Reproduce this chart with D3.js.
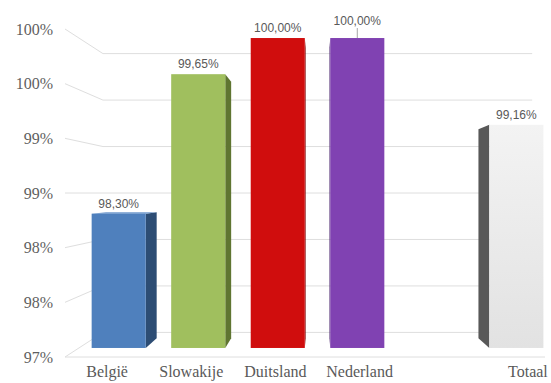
<!DOCTYPE html>
<html>
<head>
<meta charset="utf-8">
<script src="https://cdn.jsdelivr.net/npm/d3@7"></script>
<style>
  body { margin: 0; background: #fff; }
  svg { display: block; }
</style>
</head>
<body>
<div id="chart"></div>
<script>
// Chart data
const categories = ['België', 'Slowakije', 'Duitsland', 'Nederland', '', 'Totaal'];
const values = [98.30, 99.65, 100.00, 100.00, null, 99.16];
const valueLabels = ['98,30%', '99,65%', '100,00%', '100,00%', '', '99,16%'];
const tickValues = [97, 97.5, 98, 98.5, 99, 99.5, 100];
const tickLabels = ['97%', '98%', '98%', '99%', '99%', '100%', '100%'];

// front / side / top colours per bar
const colors = [
    { front: '#4f80bd', side: '#2d4d74', top: '#6f98cc' },
    { front: '#a0bf5e', side: '#5f7531', top: '#b7d07e' },
    { front: '#d00d0d', side: '#7e0808', top: '#e03a3a' },
    { front: '#8042b2', side: '#4d2870', top: '#9c66c8' },
    null,
    { front: '#ececec', side: '#585858', top: '#f6f6f6' }
];

const width = 551, height = 383;
const container = document.getElementById('chart');
container.innerHTML = '';

const svg = d3.select(container)
    .append('svg')
    .attr('width', width)
    .attr('height', height);

// Totaal bar has a soft grey gradient
const defs = svg.append('defs');
const grad = defs.append('linearGradient')
    .attr('id', 'greyGrad')
    .attr('x1', 0).attr('y1', 0).attr('x2', 0).attr('y2', 1);
grad.append('stop').attr('offset', '0%').attr('stop-color', '#f3f3f3');
grad.append('stop').attr('offset', '100%').attr('stop-color', '#e2e2e2');

// Simple perspective: everything shrinks toward a vanishing point with depth z (0 = front, 1 = back wall)
const vp = { x: 318, y: 193 };
const depthShrink = 0.15;
function proj(x, y, z) {
    const s = 1 - depthShrink * z;
    return [vp.x + (x - vp.x) * s, vp.y + (y - vp.y) * s];
}
const barZ0 = 0.367, barZ1 = 0.767;
const wallLeft = 65, wallRight = 570;

// Scales (front plane coordinates)
const xScale = d3.scaleBand()
    .domain(categories)
    .range([wallLeft, wallRight])
    .paddingInner(0.32)
    .paddingOuter(0.16);

const yScale = d3.scaleLinear()
    .domain([97, 100])
    .range([357, 29]);

const line = d3.line();
const grid = svg.append('g')
    .attr('fill', 'none')
    .attr('stroke', '#dedede')
    .attr('stroke-width', 1);

// Side wall + back wall gridlines
tickValues.forEach(t => {
    const y = yScale(t);
    grid.append('path')
        .attr('d', line([proj(wallLeft, y, 0), proj(wallLeft, y, 1), proj(wallRight, y, 1)]));
});

// Floor front edge
grid.append('path')
    .attr('d', line([proj(wallLeft, yScale(97), 0), proj(wallRight - 25, yScale(97), 0)]));

// Y axis labels
const yAxis = d3.axisLeft(yScale)
    .tickValues(tickValues)
    .tickFormat((d, i) => tickLabels[i])
    .tickSize(0)
    .tickPadding(0);

const yAxisG = svg.append('g')
    .attr('transform', 'translate(53,0)')
    .call(yAxis);
yAxisG.select('.domain').remove();
yAxisG.selectAll('text')
    .style('fill', '#5f5f5f')
    .style('font-family', '"Liberation Serif", "DejaVu Serif", serif')
    .style('font-size', '16px');

// X axis labels
const xAxis = d3.axisBottom(xScale).tickSize(0).tickPadding(2);
const xAxisG = svg.append('g')
    .attr('transform', 'translate(0,364)')
    .call(xAxis);
xAxisG.select('.domain').remove();
xAxisG.selectAll('text')
    .style('fill', '#595959')
    .style('font-family', '"Liberation Serif", "DejaVu Serif", serif')
    .style('font-size', '16px');

// Bars as boxes
const bars = svg.append('g');
const labels = svg.append('g');

categories.forEach((cat, i) => {
    const v = values[i];
    if (v == null) return;
    const c = colors[i];
    const xL = xScale(cat), xR = xScale(cat) + xScale.bandwidth();
    const yT = yScale(v), yB = yScale(97);
    const poly = pts => 'M' + pts.map(p => p.join(',')).join('L') + 'Z';

    // visible side face
    if (xR < vp.x) {
        bars.append('path')
            .attr('d', poly([proj(xR, yT, barZ0), proj(xR, yT, barZ1), proj(xR, yB, barZ1), proj(xR, yB, barZ0)]))
            .attr('fill', c.side);
    } else if (xL > vp.x) {
        bars.append('path')
            .attr('d', poly([proj(xL, yT, barZ0), proj(xL, yT, barZ1), proj(xL, yB, barZ1), proj(xL, yB, barZ0)]))
            .attr('fill', c.side);
    }
    // top face if we look down on it
    if (yT > vp.y) {
        bars.append('path')
            .attr('d', poly([proj(xL, yT, barZ0), proj(xR, yT, barZ0), proj(xR, yT, barZ1), proj(xL, yT, barZ1)]))
            .attr('fill', c.top);
    }
    // front face
    const p0 = proj(xL, yT, barZ0), p1 = proj(xR, yB, barZ0);
    bars.append('rect')
        .attr('x', p0[0])
        .attr('y', p0[1])
        .attr('width', p1[0] - p0[0])
        .attr('height', p1[1] - p0[1])
        .attr('fill', cat === 'Totaal' ? 'url(#greyGrad)' : c.front);

    // value label (Nederland label sits a bit higher with a leader line, as in the original)
    const cx = (p0[0] + p1[0]) / 2;
    const lift = i === 3 ? 7 : 0;
    labels.append('text')
        .attr('x', cx)
        .attr('y', p0[1] - 6 - lift)
        .attr('text-anchor', 'middle')
        .style('font-family', '"Liberation Sans", sans-serif')
        .style('font-size', '12px')
        .style('fill', '#595959')
        .text(valueLabels[i]);
    if (lift) {
        labels.append('line')
            .attr('x1', cx).attr('x2', cx)
            .attr('y1', p0[1] - lift - 3).attr('y2', p0[1])
            .attr('stroke', '#a6a6a6');
    }
});
</script>
</body>
</html>
